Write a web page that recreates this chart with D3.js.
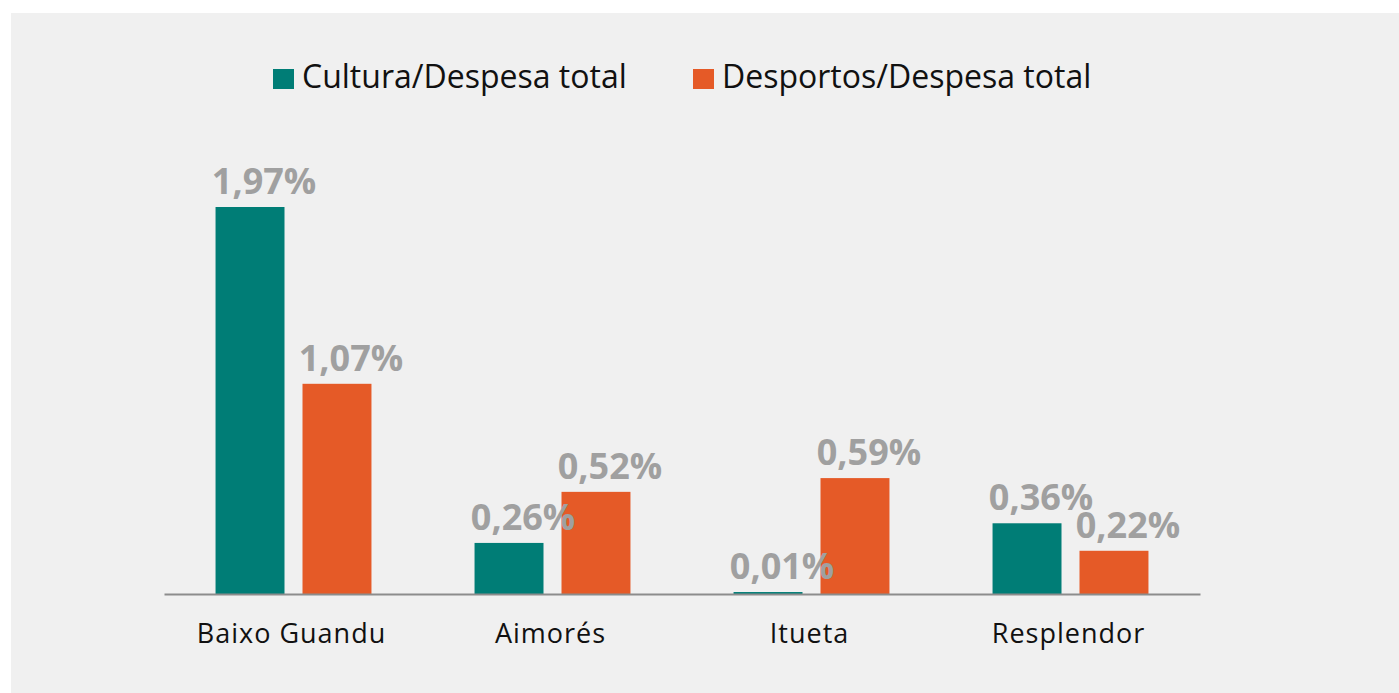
<!DOCTYPE html>
<html>
<head>
  <meta charset="utf-8">
  <title>Cultura e Desportos / Despesa total</title>
  <script src="https://d3js.org/d3.v7.min.js"></script>
  <style>
    body { margin: 0; background: #fff; font-family: "Open Sans", sans-serif; }
  </style>
</head>
<body>
<script>
// dados do gráfico
var municipios = ["Baixo Guandu", "Aimorés", "Itueta", "Resplendor"];
var series = ["Cultura/Despesa total", "Desportos/Despesa total"];
var cultura = [1.97, 0.26, 0.01, 0.36];
var desportos = [1.07, 0.52, 0.59, 0.22];
var cores = ["#007d76", "#e55a27"];

var width = 1399, height = 693;
var x0 = 164, x1 = 1200, base = 594; // área do gráfico

var svg = d3.select("body").append("svg")
  .attr("width", width).attr("height", height);

// fundo
svg.append("rect")
  .attr("x", 11).attr("y", 13)
  .attr("width", width - 11).attr("height", height - 13)
  .attr("fill", "#f0f0f0");

var dataset = [];
for (var i = 0; i < municipios.length; i++) {
  dataset.push({ name: municipios[i], values: [cultura[i], desportos[i]] });
}

// escalas
var xScale = d3.scaleBand()
  .domain(municipios)
  .range([x0, x1])
  .paddingInner(0.398)
  .paddingOuter(0.199);

var xInner = d3.scaleBand()
  .domain(series)
  .range([0, xScale.bandwidth()])
  .paddingInner(0.207);

var yScale = d3.scaleLinear()
  .domain([0, 1.97])
  .range([base, 207]);

// barras
var grupos = svg.append("g").selectAll("g")
  .data(dataset)
  .enter()
  .append("g")
  .attr("transform", function(d) { return "translate(" + xScale(d.name) + ",0)"; });

grupos.selectAll("rect")
  .data(function(d) { return d.values.map(function(v, j) { return { s: series[j], v: v, j: j }; }); })
  .enter()
  .append("rect")
  .attr("x", function(d) { return xInner(d.s); })
  .attr("y", function(d) { return yScale(d.v); })
  .attr("width", xInner.bandwidth())
  .attr("height", function(d) { return base - yScale(d.v); })
  .attr("fill", function(d) { return cores[d.j]; });

// eixo
var eixo = svg.append("g")
  .attr("transform", "translate(0," + base + ")")
  .call(d3.axisBottom(xScale).tickSize(0).tickPadding(0));
eixo.select(".domain").attr("stroke", "#8c8c8c").attr("stroke-width", 2);
eixo.selectAll("text")
  .attr("dy", 49)
  .attr("dx", -2)
  .attr("font-family", "Open Sans")
  .attr("font-size", 27)
  .attr("letter-spacing", 1)
  .attr("fill", "#111");

// rótulos de valores
grupos.selectAll("text.lbl")
  .data(function(d) { return d.values.map(function(v, j) { return { s: series[j], v: v, j: j }; }); })
  .enter()
  .append("text")
  .attr("class", "lbl")
  .attr("x", function(d) { return xInner(d.s) + xInner.bandwidth() / 2 + 14; })
  .attr("y", function(d) { return yScale(d.v) - 13; })
  .attr("text-anchor", "middle")
  .attr("font-family", "Open Sans")
  .attr("font-weight", "bold")
  .attr("font-size", 36)
  .attr("fill", "#a0a0a0")
  .text(function(d) { return d.v.toFixed(2).replace(".", ",") + "%"; });

// legenda
var legX = [273, 693];
var legenda = svg.append("g").selectAll("g")
  .data(series)
  .enter()
  .append("g")
  .attr("transform", function(d, i) { return "translate(" + legX[i] + ",69)"; });
legenda.append("rect")
  .attr("width", 21).attr("height", 20)
  .attr("fill", function(d, i) { return cores[i]; });
legenda.append("text")
  .attr("x", 29).attr("y", 19)
  .attr("font-family", "Open Sans")
  .attr("font-size", 32)
  .attr("fill", "#111")
  .text(function(d) { return d; });
</script>
</body>
</html>
